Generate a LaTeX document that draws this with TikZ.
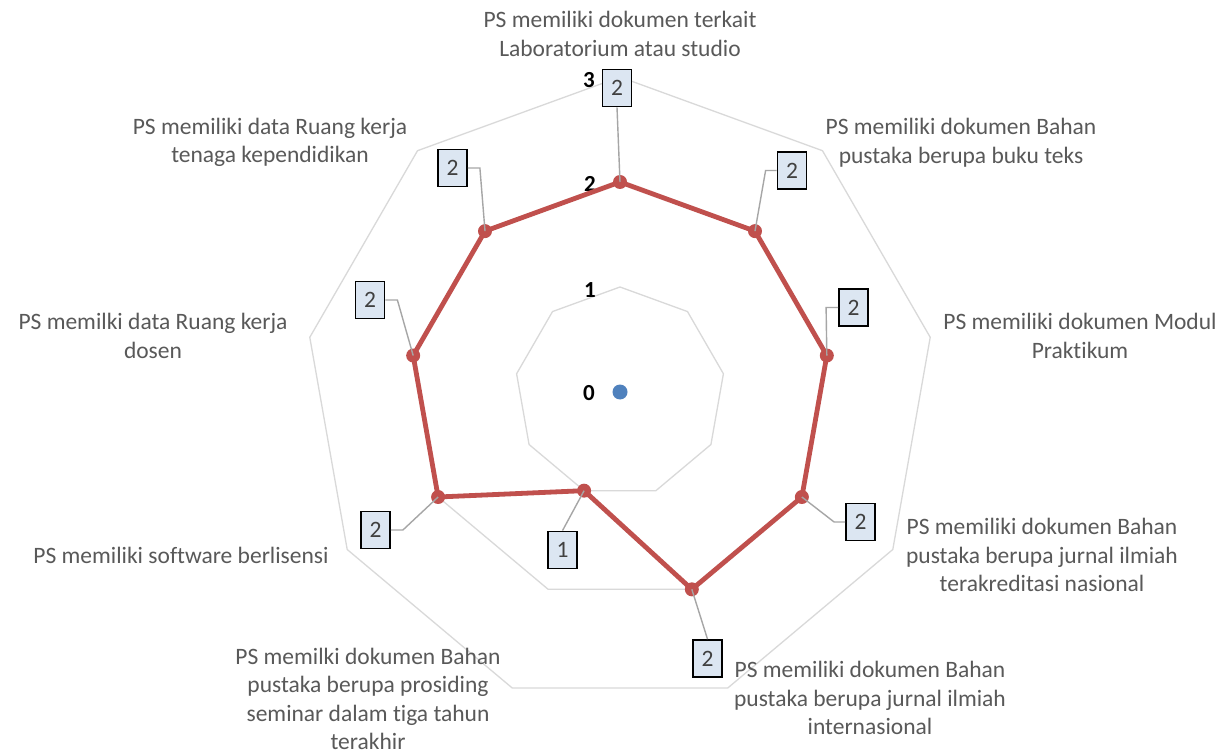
\documentclass[tikz,border=0pt]{standalone}
\usepackage{fontspec}
\setmainfont{Carlito}[Ligatures={NoCommon}]
\definecolor{gridc}{HTML}{D9D9D9}
\definecolor{serc}{HTML}{C0504D}
\definecolor{zeroc}{HTML}{4F81BD}
\definecolor{labc}{HTML}{595959}
\definecolor{boxc}{HTML}{DCE6F2}
\definecolor{leadc}{HTML}{A6A6A6}
\begin{document}
\begin{tikzpicture}[x=1pt,y=-1pt,
  gridline/.style={draw=gridc, line width=1.3pt, line join=round},
  serline/.style={draw=serc, line width=4.8pt, line join=round},
  marker/.style={circle, fill=serc, inner sep=0pt, minimum size=14pt},
  dlabel/.style={draw=black, line width=1.8pt, fill=boxc, text=black!75, minimum width=29pt, minimum height=37pt, inner sep=0pt, font=\fontsize{23.5}{28}\selectfont},
  leaderline/.style={draw=leadc, line width=1.4pt},
  cat/.style={text=labc, align=center, font=\fontsize{23.5}{28.5}\selectfont, inner sep=0pt},
  axnum/.style={font=\fontsize{23}{26}\selectfont\bfseries, text=black, inner sep=0pt}]
\useasboundingbox (0,0) rectangle (1227,754);
\fill[white] (0,0) rectangle (1227,754);
\coordinate (c) at (620,392);
\begin{scope}[shift={(620,392)}]
  \foreach \k in {1,2,3}
    \draw[gridline] (-90:{105*\k}) \foreach \i in {1,...,8}{ -- ({40*\i-90}:{105*\k})} -- cycle;
  \coordinate (p0) at (-90:210);
  \coordinate (p1) at (-50:210);
  \coordinate (p2) at (-10:210);
  \coordinate (p3) at (30:210);
  \coordinate (p4) at (70:210);
  \coordinate (p5) at (110:105);
  \coordinate (p6) at (150:210);
  \coordinate (p7) at (190:210);
  \coordinate (p8) at (230:210);
\end{scope}
% axis numbers
\node[axnum] (a0) at (589,393) {0};
\node[axnum] (a1) at (590,290) {1};
\node[axnum] (a2) at (590,184) {2};
\node[axnum] (a3) at (589,80) {3};
% series
\draw[serline] (p0) -- (p1) -- (p2) -- (p3) -- (p4) -- (p5) -- (p6) -- (p7) -- (p8) -- cycle;
\foreach \i in {0,...,8} \node[marker] (m\i) at (p\i) {};
\node[circle, fill=zeroc, inner sep=0pt, minimum size=15pt] (z) at (c) {};
% data labels
\node[dlabel] (b0) at (617,88) {2};
\node[dlabel] (b1) at (792,170.5) {2};
\node[dlabel] (b2) at (853.5,307.5) {2};
\node[dlabel] (b3) at (860.5,522) {2};
\node[dlabel] (b4) at (707.5,658.5) {2};
\node[dlabel] (b5) at (562.5,550) {1};
\node[dlabel] (b6) at (375.5,530) {2};
\node[dlabel] (b7) at (370,300) {2};
\node[dlabel] (b8) at (452.5,168) {2};
\draw[leaderline] (b0.south) -- (p0);
\draw[leaderline] (b1.west) -- ++(-11,0) -- (p1);
\draw[leaderline] (b2.west) -- ++(-12,0) -- (p2);
\draw[leaderline] (b3.west) -- ++(-11,0) -- (p3);
\draw[leaderline] (b4.north) -- (p4);
\draw[leaderline] (b5.north) -- (p5);
\draw[leaderline] (b6.east) -- ++(12,0) -- (p6);
\draw[leaderline] (b7.east) -- ++(12,0) -- (p7);
\draw[leaderline] (b8.east) -- ++(12,0) -- (p8);
% category labels
\node[cat] (t0) at (620,34) {PS memiliki dokumen terkait\\Laboratorium atau studio};
\node[cat] (t1) at (961,142.5) {PS memiliki dokumen Bahan\\pustaka berupa buku teks};
\node[cat] (t2) at (1080,336) {PS memiliki dokumen Modul\\Praktikum};
\node[cat] (t3) at (1042,555) {PS memiliki dokumen Bahan\\pustaka berupa jurnal ilmiah\\terakreditasi nasional};
\node[cat] (t4) at (870,698) {PS memiliki dokumen Bahan\\pustaka berupa jurnal ilmiah\\internasional};
\node[cat] (t5) at (368,699) {PS memilki dokumen Bahan\\pustaka berupa prosiding\\seminar dalam tiga tahun\\terakhir};
\node[cat] (t6) at (181,555) {PS memiliki software berlisensi};
\node[cat] (t7) at (153,336) {PS memilki data Ruang kerja\\dosen};
\node[cat] (t8) at (270,142.5) {PS memiliki data Ruang kerja\\tenaga kependidikan};
\end{tikzpicture}
\end{document}
